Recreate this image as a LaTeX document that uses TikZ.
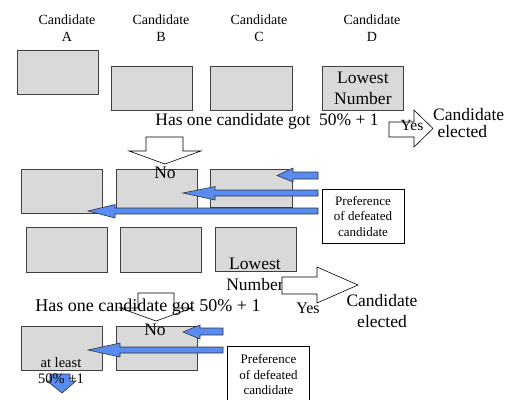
\documentclass[tikz,border=0pt]{standalone}
\usepackage{fontspec}
\setmainfont{Liberation Serif}

\definecolor{boxgray}{RGB}{217,217,217}
\definecolor{prefblue}{RGB}{88,140,242}

\tikzset{
  cbox/.style={draw=black!75, fill=boxgray, line width=0.8pt,
    minimum width=81pt, minimum height=44pt, inner sep=0pt, anchor=north west},
  headtext/.style={font=\fontsize{14}{17}\selectfont, inner sep=0pt, align=center},
  bigtext/.style={font=\fontsize{17.5}{21}\selectfont, inner sep=0pt, align=center},
  preftext/.style={draw=black, line width=0.6pt, fill=white,
    font=\fontsize{13}{15.5}\selectfont, align=center, inner sep=0pt,
    minimum width=82pt},
  hollow/.style={draw=black, fill=white, line width=0.6pt},
  bluearr/.style={draw=black!80, fill=prefblue, line width=0.6pt},
}

\begin{document}
\begin{tikzpicture}[x=1pt, y=-1pt]
\useasboundingbox (0,0) rectangle (519,399);

% candidates
\node[headtext] (labA) at (67,28) {Candidate\\A};
\node[headtext] (labB) at (161,28) {Candidate\\B};
\node[headtext] (labC) at (259,28) {Candidate\\C};
\node[headtext] (labD) at (372,28) {Candidate\\D};

% first count
\node[cbox] (a1) at (17,50) {};
\node[cbox] (b1) at (111,66) {};
\node[cbox, minimum width=82pt] (c1) at (210,66) {};
\node[cbox, font=\fontsize{17.5}{21}\selectfont, align=center] (d1) at (322,66) {Lowest\\Number};

\node[bigtext] (ask1) at (267,121) {Has one candidate got\ \ 50\% + 1};

\draw[hollow] (389,122) -- (414,122) -- (414,110) -- (433,128.5)
  -- (414,147) -- (414,137) -- (389,137) -- cycle;
\node[font=\fontsize{15.5}{18}\selectfont, inner sep=0pt] (yes1) at (412,125) {Yes};
\node[bigtext, align=left, anchor=west, font=\fontsize{17.5}{17}\selectfont] (won1) at (433,123.5) {Candidate\\\ elected};

\draw[hollow] (146,137) -- (183,137) -- (183,151) -- (201,151)
  -- (165,164) -- (129,151) -- (146,151) -- cycle;

% second count
\node[cbox] (a2) at (21,169) {};
\node[cbox, minimum height=39pt] (b2) at (116,169) {};
\node[cbox, minimum width=82pt, minimum height=38pt] (c2) at (210,169) {};
\node[bigtext] (no1) at (165,173) {No};

\draw[bluearr] (318,172) -- (293,172) -- (293,168) -- (277,175.5)
  -- (293,182) -- (293,179) -- (318,179) -- cycle;
\draw[bluearr] (318,190) -- (215,190) -- (215,186.5) -- (183,193)
  -- (215,200) -- (215,196) -- (318,196) -- cycle;
\draw[bluearr] (318,208) -- (115,208) -- (115,204.5) -- (88,211)
  -- (115,218) -- (115,214) -- (318,214) -- cycle;

\node[preftext, minimum height=54pt] (pref1) at (363,216) {Preference\\of defeated\\candidate};

% third count
\node[cbox, minimum height=45pt] (a3) at (26,227) {};
\node[cbox, minimum height=45pt] (b3) at (120,227) {};
\node[cbox] (c3) at (215,227) {};
\node[bigtext] (low3) at (255,274.5) {Lowest\\Number};

\draw[hollow] (282,277) -- (317,277) -- (317,267) -- (358,285)
  -- (317,303) -- (317,294) -- (282,294) -- cycle;
\node[font=\fontsize{16}{18}\selectfont, inner sep=0pt] (yes2) at (308,308) {Yes};
\node[bigtext] (won2) at (382,311.5) {Candidate\\elected};

\draw[hollow] (138,293) -- (174,293) -- (174,308) -- (192,308)
  -- (156,321) -- (120,308) -- (138,308) -- cycle;
\node[bigtext, font=\fontsize{18}{21}\selectfont] (ask2) at (148,307) {Has one candidate got 50\% + 1};

% fourth count
\node[cbox] (a4) at (21,326) {};
\node[cbox] (b4) at (116,326) {};
\node[bigtext] (no2) at (155,330) {No};

\draw[bluearr] (223,328) -- (200,328) -- (200,325) -- (183,332)
  -- (200,339) -- (200,335) -- (223,335) -- cycle;
\draw[bluearr] (223,347) -- (120,347) -- (120,343) -- (88,350)
  -- (120,357) -- (120,353) -- (223,353) -- cycle;

\draw[bluearr] (50,374) -- (70,374) -- (70,381) -- (76,381)
  -- (62,393) -- (47,381) -- (50,381) -- cycle;
\node[font=\fontsize{14.5}{16}\selectfont, inner sep=0pt, align=center] (maj4) at (61,371) {at least\\50\% +1};

\node[preftext, minimum height=57pt] (pref2) at (268.5,374.5) {Preference\\of defeated\\candidate};
\end{tikzpicture}
\end{document}
